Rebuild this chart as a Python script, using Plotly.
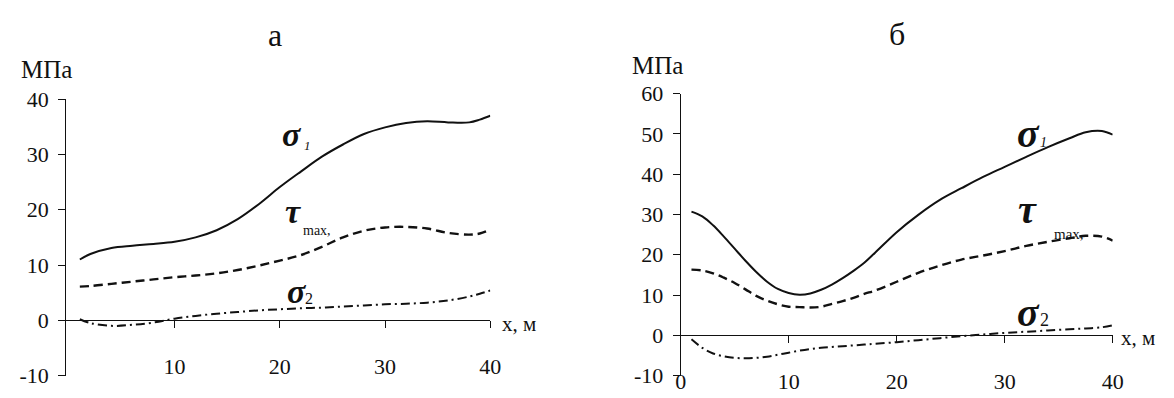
import plotly.graph_objects as go

# ---------------- data ----------------
# panel "а"
x_a = [1, 2, 4, 6, 8, 10, 12, 14, 16, 18, 20, 22, 24, 26, 28, 30, 32, 34, 36, 38, 39, 40]
sigma1_a = [11.0, 12.0, 13.1, 13.5, 13.8, 14.2, 15.0, 16.3, 18.3, 21.0, 24.1, 26.9, 29.6, 31.8, 33.7, 34.9,
            35.7, 36.0, 35.8, 35.8, 36.3, 37.0]
tau_a = [6.1, 6.2, 6.6, 7.0, 7.4, 7.8, 8.1, 8.5, 9.1, 9.9, 10.8, 11.8, 13.3, 15.0, 16.2, 16.8,
         16.9, 16.6, 15.8, 15.5, 15.7, 16.4]
sigma2_a = [0.2, -0.5, -1.0, -0.8, -0.4, 0.3, 0.8, 1.2, 1.5, 1.8, 2.0, 2.2, 2.3, 2.5, 2.7, 2.9,
            3.0, 3.2, 3.6, 4.3, 4.8, 5.4]

# panel "б"
x_b = [1, 2, 3, 4, 5, 6, 7, 8, 9, 10, 11, 12, 13, 14, 15, 16, 17, 18, 20, 22, 24, 26, 28, 30,
       32, 34, 36, 37.5, 39, 40]
sigma1_b = [30.7, 29.5, 27.3, 24.5, 21.5, 18.5, 15.7, 13.3, 11.5, 10.5, 10.1, 10.4, 11.3, 12.6, 14.2,
            16.0, 18.0, 20.5, 25.6, 29.9, 33.6, 36.5, 39.3, 41.8, 44.3, 46.7, 48.9, 50.4, 50.7, 49.8]
tau_b = [16.3, 16.1, 15.4, 14.3, 13.0, 11.4, 9.8, 8.6, 7.7, 7.1, 7.0, 6.9, 7.1, 7.8, 8.5,
         9.3, 10.3, 11.1, 13.3, 15.5, 17.3, 18.8, 19.8, 20.9, 22.2, 23.2, 24.1, 24.7, 24.5, 23.5]
sigma2_b = [-1.0, -3.1, -4.5, -5.2, -5.6, -5.7, -5.6, -5.3, -4.8, -4.3, -3.8, -3.4, -3.1, -2.9, -2.7,
            -2.5, -2.3, -2.1, -1.7, -1.2, -0.7, -0.2, 0.2, 0.6, 0.9, 1.2, 1.5, 1.7, 2.0, 2.5]

# axis ticks
xticks_a = [10, 20, 30, 40]
xticks_b = [0, 10, 20, 30, 40]
yticks_a = [-10, 0, 10, 20, 30, 40]
yticks_b = [-10, 0, 10, 20, 30, 40, 50, 60]
ytext_a = ["-10", "0", "10", "20", "30", "40"]
ytext_b = ["-10", "0", "10", "20", "30", "40", "50", "60"]

W, H = 1174, 398
SERIF = "Liberation Serif, Times New Roman, serif"
INK = "#111111"


def px(x):
    return x / W


def py(y):
    return 1 - y / H


xr_a, yr_a = [-0.3, 40], [-10, 40]
xr_b, yr_b = [0, 40], [-10, 60]
xd_a, yd_a = [px(62), px(492)], [py(388), py(93)]
xd_b, yd_b = [px(685), px(1123)], [py(388), py(87)]


def zero_pos(ydom, yr):
    return ydom[0] + (0 - yr[0]) / (yr[1] - yr[0]) * (ydom[1] - ydom[0])


fig = go.Figure()

styles = [
    dict(color=INK, width=2, dash="solid"),
    dict(color=INK, width=2.4, dash="9px,5px"),
    dict(color=INK, width=2, dash="9px,4px,2px,4px"),
]

for ys, st in zip([sigma1_a, tau_a, sigma2_a], styles):
    fig.add_trace(go.Scatter(x=x_a, y=ys, mode="lines", line=dict(shape="spline", smoothing=1.0, **st),
                             xaxis="x", yaxis="y", showlegend=False, hoverinfo="skip"))
for ys, st in zip([sigma1_b, tau_b, sigma2_b], styles):
    fig.add_trace(go.Scatter(x=x_b, y=ys, mode="lines", line=dict(shape="spline", smoothing=1.0, **st),
                             xaxis="x2", yaxis="y2", showlegend=False, hoverinfo="skip"))

tickfont = dict(family=SERIF, size=22, color=INK)
common_x = dict(showgrid=False, zeroline=False, showline=True, linecolor=INK, linewidth=1,
                ticks="outside", ticklen=7, tickcolor=INK, tickfont=tickfont, ticklabelstandoff=19)
common_y = dict(showgrid=False, zeroline=False, showline=True, linecolor=INK, linewidth=1,
                ticks="outside", ticklen=7, tickcolor=INK, tickfont=tickfont, ticklabelstandoff=5)

fig.update_layout(
    width=W, height=H,
    margin=dict(l=0, r=0, t=0, b=0),
    paper_bgcolor="white", plot_bgcolor="white",
    xaxis=dict(domain=xd_a, range=xr_a, anchor="free", position=zero_pos(yd_a, yr_a),
               tickvals=xticks_a, **common_x),
    yaxis=dict(domain=yd_a, range=yr_a, anchor="x", tickvals=yticks_a, ticktext=ytext_a, **common_y),
    xaxis2=dict(domain=xd_b, range=xr_b, anchor="free", position=zero_pos(yd_b, yr_b),
                tickvals=xticks_b, **common_x),
    yaxis2=dict(domain=yd_b, range=yr_b, anchor="x2", tickvals=yticks_b, ticktext=ytext_b, **common_y),
)

ann = []


def text(x, y, s, size, xref="paper", yref="paper", xanchor="center", yanchor="middle", xshift=0, yshift=0):
    ann.append(dict(x=x, y=y, xref=xref, yref=yref, text=s, showarrow=False,
                    xanchor=xanchor, yanchor=yanchor, xshift=xshift, yshift=yshift,
                    font=dict(family=SERIF, size=size, color=INK)))


# panel titles and units
text(px(274), py(25), "а", 32)
text(px(904), py(23), "б", 32)
text(px(42), py(61), "МПа", 25)
text(px(662), py(57), "МПа", 25)
text(px(502), py(333), "х, м", 21, xanchor="left")
text(px(1129), py(348), "х, м", 21, xanchor="left")

# curve labels, panel "а"
text(21.2, 33.6, "<b><i>σ</i></b>", 34, "x", "y")
text(21.2, 33.6, "<i>1</i>", 13, "x", "y", xshift=15, yshift=-11)
text(21.3, 19.6, "<b><i>τ</i></b>", 34, "x", "y")
text(21.3, 19.6, "max,", 14, "x", "y", xshift=24, yshift=-19)
text(21.6, 5.2, "<b><i>σ</i></b>", 34, "x", "y")
text(21.6, 5.2, "2", 16, "x", "y", xshift=12, yshift=-7)

# curve labels, panel "б"
text(32.2, 50.2, "<b><i>σ</i></b>", 40, "x2", "y2")
text(32.2, 50.2, "<i>1</i>", 14, "x2", "y2", xshift=15, yshift=-9)
text(32.1, 31.2, "<b><i>τ</i></b>", 40, "x2", "y2")
text(32.1, 31.2, "max,", 15, "x2", "y2", xshift=42, yshift=-24)
text(32.2, 5.6, "<b><i>σ</i></b>", 40, "x2", "y2")
text(32.2, 5.6, "2", 18, "x2", "y2", xshift=16, yshift=-7)

fig.update_layout(annotations=ann)

fig.write_html("out.html")
